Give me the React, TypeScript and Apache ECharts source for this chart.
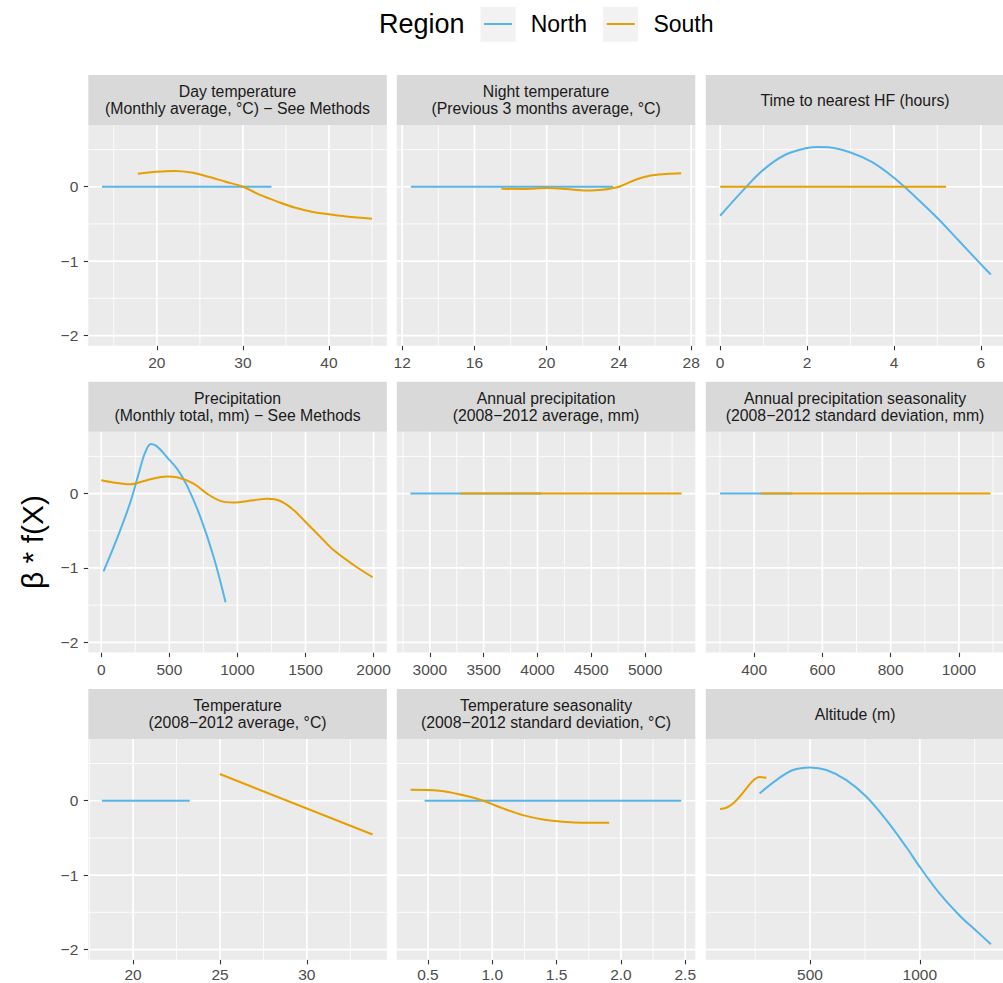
import { useEffect, useRef } from 'react';
import * as echarts from 'echarts';

const regions = ['North', 'South'];
const regionColors = ['#56B4E9', '#E69F00'];

const panelTitles = [
  'Day temperature\n(Monthly average, °C) − See Methods',
  'Night temperature\n(Previous 3 months average, °C)',
  'Time to nearest HF (hours)',
  'Precipitation\n(Monthly total, mm) − See Methods',
  'Annual precipitation\n(2008−2012 average, mm)',
  'Annual precipitation seasonality\n(2008−2012 standard deviation, mm)',
  'Temperature\n(2008−2012 average, °C)',
  'Temperature seasonality\n(2008−2012 standard deviation, °C)',
  'Altitude (m)',
];

// Day temperature
const dayTempNorth = [[13.63, 0], [33.32, 0]];
const dayTempSouth = [[17.8, 0.175], [20, 0.2], [22, 0.21], [24, 0.19], [26, 0.135], [28, 0.067], [30, 0.0], [32, -0.11], [34, -0.2], [36, -0.28], [38, -0.335], [40, -0.37], [42, -0.4], [45, -0.43]];
// Night temperature
const nightTempNorth = [[12.48, 0], [23.67, 0]];
const nightTempSouth = [[17.49, -0.027], [18.69, -0.03], [20.07, -0.018], [21.09, -0.03], [22.19, -0.05], [23.1, -0.04], [24.04, 0.004], [24.96, 0.098], [25.7, 0.148], [26.6, 0.17], [27.45, 0.18]];
// Time to nearest HF
const hfNorth = [[0, -0.39], [0.5, -0.065], [1.0, 0.23], [1.5, 0.43], [2.0, 0.52], [2.25, 0.535], [2.5, 0.53], [3.0, 0.46], [3.5, 0.33], [4.0, 0.12], [4.5, -0.14], [5.0, -0.42], [5.5, -0.73], [6.0, -1.04], [6.23, -1.18]];
const hfSouth = [[0, 0], [5.2, 0]];
// Precipitation (monthly)
const precipNorth = [[17, -1.045], [115, -0.61], [213, -0.12], [280, 0.3], [320, 0.54], [365, 0.665], [409, 0.634], [482, 0.49], [556, 0.335], [629, 0.11], [727, -0.31], [825, -0.85], [913, -1.46]];
const precipSouth = [[0, 0.18], [90, 0.15], [213, 0.125], [335, 0.18], [482, 0.23], [556, 0.22], [678, 0.134], [776, 0], [874, -0.098], [972, -0.12], [1119, -0.09], [1217, -0.07], [1315, -0.1], [1412, -0.22], [1510, -0.4], [1608, -0.58], [1706, -0.76], [1853, -0.96], [1993, -1.125]];
// Annual precipitation
const annPrecipNorth = [[2820, 0], [4036, 0]];
const annPrecipSouth = [[3285, 0], [5338, 0]];
// Annual precipitation seasonality
const seasPrecipNorth = [[300, 0], [512, 0]];
const seasPrecipSouth = [[419, 0], [1093, 0]];
// Temperature
const tempNorth = [[18.2, 0], [23.26, 0]];
const tempSouth = [[24.99, 0.359], [33.78, -0.453]];
// Temperature seasonality
const tempSeasNorth = [[0.474, 0], [2.469, 0]];
const tempSeasSouth = [[0.365, 0.148], [0.59, 0.135], [0.77, 0.076], [0.93, 0], [1.083, -0.103], [1.238, -0.193], [1.394, -0.251], [1.549, -0.283], [1.705, -0.296], [1.909, -0.296]];
// Altitude
const altNorth = [[270.5, 0.099], [346.5, 0.278], [422.5, 0.413], [500, 0.448], [574.5, 0.413], [665.7, 0.278], [756.8, 0.054], [848, -0.26], [939, -0.625], [1000, -0.89], [1091, -1.25], [1182, -1.545], [1258, -1.75], [1324, -1.928]];
const altSouth = [[89.7, -0.112], [118.6, -0.094], [149, -0.036], [179, 0.054], [210, 0.166], [240, 0.269], [270.5, 0.318], [301, 0.309]];

const northData = [dayTempNorth, nightTempNorth, hfNorth, precipNorth, annPrecipNorth, seasPrecipNorth, tempNorth, tempSeasNorth, altNorth];
const southData = [dayTempSouth, nightTempSouth, hfSouth, precipSouth, annPrecipSouth, seasPrecipSouth, tempSouth, tempSeasSouth, altSouth];

const yRange = [-2.138, 0.83];
const yMajor = [-2, -1, 0];
const yMinor = [-1.5, -0.5, 0.5];

const xRanges = [[12.04, 46.72], [11.7, 28.23], [-0.33, 6.54], [-95, 2097], [2693, 5466], [258.5, 1133], [17.42, 34.6], [0.258, 2.578], [25, 1385]];
const xMajor = [
  [20, 30, 40], [12, 16, 20, 24, 28], [0, 2, 4, 6], [0, 500, 1000, 1500, 2000],
  [3000, 3500, 4000, 4500, 5000], [400, 600, 800, 1000], [20, 25, 30], [0.5, 1.0, 1.5, 2.0, 2.5], [500, 1000],
];
const xMinor = [
  [15, 25, 35, 45], [14, 18, 22, 26], [1, 3, 5], [250, 750, 1250, 1750],
  [2750, 3250, 3750, 4250, 4750, 5250], [300, 500, 700, 900, 1100], [17.5, 22.5, 27.5, 32.5], [0.75, 1.25, 1.75, 2.25], [250, 750, 1250],
];
const xDecimals = [0, 0, 0, 0, 0, 0, 0, 1, 0];

const FONT = 'Liberation Sans, Arial, Helvetica, sans-serif';

export default function App() {
  const ref = useRef<HTMLDivElement>(null);
  useEffect(() => {
    if (!ref.current) return;
    const chart = echarts.init(ref.current, null, { renderer: 'svg' });
    const colLefts = [88.3, 396.8, 705.8];
    const rowTops = [125, 431.8, 739];
    const panelW = 298.5;
    const panelH = 220.8;
    const stripH = 50;
    const majorW = 1.7;
    const minorW = 0.85;

    const grids: any[] = [];
    const xAxes: any[] = [];
    const yAxes: any[] = [];
    const series: any[] = [];
    const graphics: any[] = [];
    const fmt = (v: number, d: number) => {
      const s = d > 0 ? Math.abs(v).toFixed(d) : String(Math.abs(v));
      return v < 0 ? '\u2212' + s : s;
    };

    for (let i = 0; i < 9; i++) {
      const col = i % 3;
      const row = Math.floor(i / 3);
      const left = colLefts[col];
      const top = rowTops[row];
      grids.push({
        left, top, width: panelW, height: panelH,
        show: true, backgroundColor: '#EBEBEB', borderWidth: 0,
        containLabel: false, outerBoundsMode: 'none',
      });
      const dec = xDecimals[i];
      xAxes.push({
        type: 'value', gridIndex: i, min: xRanges[i][0], max: xRanges[i][1],
        axisLine: { show: false, onZero: false },
        splitLine: { show: false },
        axisTick: { show: true, length: 4.5, customValues: xMajor[i], lineStyle: { color: '#333333', width: 1.1 } },
        axisLabel: { show: true, customValues: xMajor[i], color: '#4D4D4D', fontSize: 15.5, lineHeight: 12, fontFamily: FONT, margin: row === 2 ? 9 : 11, formatter: (v: number) => fmt(v, dec) },
      });
      yAxes.push({
        type: 'value', gridIndex: i, min: yRange[0], max: yRange[1],
        axisLine: { show: false, onZero: false },
        splitLine: { show: false },
        axisTick: { show: col === 0, length: 4.5, customValues: yMajor, lineStyle: { color: '#333333', width: 1.1 } },
        axisLabel: { show: col === 0, customValues: yMajor, color: '#4D4D4D', fontSize: 15.5, fontFamily: FONT, margin: 10, formatter: (v: number) => fmt(v, 0) },
      });
      const xmid = (xRanges[i][0] + xRanges[i][1]) / 2;
      const gridData: number[][] = [];
      xMinor[i].forEach((v) => gridData.push([v, 0, minorW, 0]));
      yMinor.forEach((v) => gridData.push([xmid, v, minorW, 1]));
      xMajor[i].forEach((v) => gridData.push([v, 0, majorW, 0]));
      yMajor.forEach((v) => gridData.push([xmid, v, majorW, 1]));
      series.push({
        type: 'custom', name: 'gridlines', xAxisIndex: i, yAxisIndex: i, silent: true, z: 1,
        encode: { x: 0, y: 1 },
        data: gridData,
        renderItem: (params: any, api: any) => {
          const cs = params.coordSys;
          const pt = api.coord([api.value(0), api.value(1)]);
          const lw = api.value(2);
          if (api.value(3) === 0) {
            return { type: 'line', shape: { x1: pt[0], y1: cs.y, x2: pt[0], y2: cs.y + cs.height }, style: { stroke: '#FFFFFF', lineWidth: lw } };
          }
          return { type: 'line', shape: { x1: cs.x, y1: pt[1], x2: cs.x + cs.width, y2: pt[1] }, style: { stroke: '#FFFFFF', lineWidth: lw } };
        },
      });
      [northData[i], southData[i]].forEach((d, k) => {
        series.push({
          type: 'line', name: regions[k], xAxisIndex: i, yAxisIndex: i,
          data: d, showSymbol: false, symbol: 'none', smooth: d.length > 3 ? 0.35 : false,
          lineStyle: { color: regionColors[k], width: 2 }, itemStyle: { color: regionColors[k] },
          z: 3 + k, silent: true,
        });
      });
      graphics.push({
        type: 'rect', shape: { x: left, y: top - stripH, width: panelW, height: stripH },
        style: { fill: '#D9D9D9' }, silent: true,
      });
      graphics.push({
        type: 'text', x: left + panelW / 2, y: top - stripH / 2,
        style: { text: panelTitles[i], align: 'center', verticalAlign: 'middle', fontSize: 15.8, lineHeight: 17, fontFamily: FONT, fill: '#1A1A1A' },
        silent: true,
      });
    }

    graphics.push({ type: 'rect', shape: { x: 480.5, y: 6.7, width: 35, height: 35 }, style: { fill: '#F2F2F2' }, silent: true });
    graphics.push({ type: 'rect', shape: { x: 603, y: 6.7, width: 35, height: 35 }, style: { fill: '#F2F2F2' }, silent: true });
    graphics.push({
      type: 'text', x: 379, y: 24,
      style: { text: 'Region', align: 'left', verticalAlign: 'middle', fontSize: 27, fontFamily: FONT, fill: '#000000' },
      silent: true,
    });
    graphics.push({
      type: 'text', x: 32, y: 542, rotation: Math.PI / 2,
      style: { text: 'β * f(X)', align: 'center', verticalAlign: 'middle', fontSize: 30, fontFamily: FONT, fill: '#000000' },
      silent: true,
    });

    chart.setOption({
      animation: false,
      backgroundColor: '#FFFFFF',
      textStyle: { fontFamily: FONT },
      grid: grids,
      xAxis: xAxes,
      yAxis: yAxes,
      legend: {
        data: regions.map((r, k) => ({ name: r, icon: 'rect', itemStyle: { color: regionColors[k] } })),
        left: 484, top: 12.5, padding: 0, itemWidth: 28, itemHeight: 2, itemGap: 19.8,
        selectedMode: false,
        textStyle: { fontSize: 23, color: '#000000', fontFamily: FONT, padding: [0, 0, 0, 13.7] },
      },
      graphic: graphics,
      series,
    });
    return () => chart.dispose();
  }, []);
  return <div ref={ref} style={{ position: 'fixed', left: 0, top: 0, width: 1003, height: 983 }} />;
}
